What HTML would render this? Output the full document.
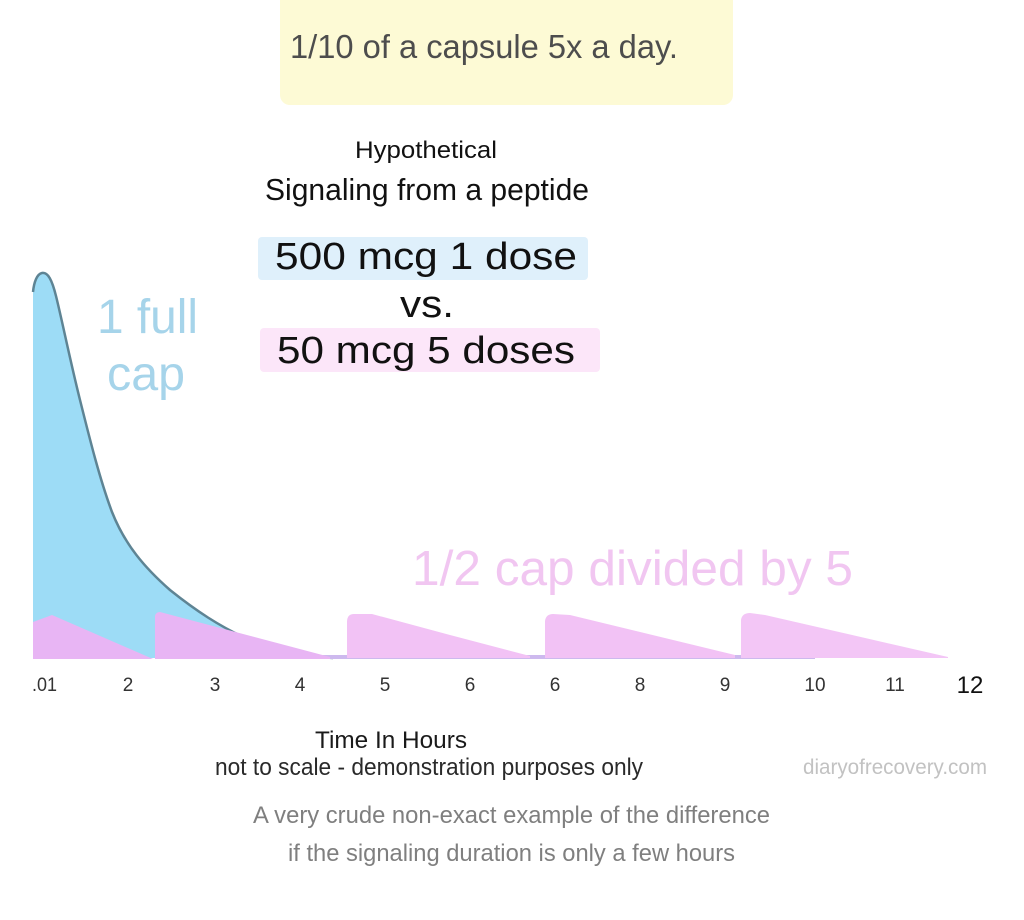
<!DOCTYPE html>
<html>
<head>
<meta charset="utf-8">
<style>
  html, body { margin: 0; padding: 0; background: #ffffff; }
  svg { display: block; }
  text { font-family: "Liberation Sans", sans-serif; }
</style>
</head>
<body>
<svg width="1024" height="920" viewBox="0 0 1024 920" xmlns="http://www.w3.org/2000/svg">
  <rect x="0" y="0" width="1024" height="920" fill="#ffffff"/>

  <!-- yellow header box -->
  <rect x="280" y="-12" width="453" height="117" rx="10" fill="#fdfad5"/>
  <text x="290" y="58" font-size="33" fill="#4d4d4d" textLength="388" lengthAdjust="spacingAndGlyphs">1/10 of a capsule 5x a day.</text>

  <!-- titles -->
  <text x="355" y="158" font-size="24" fill="#111" textLength="142" lengthAdjust="spacingAndGlyphs">Hypothetical</text>
  <text x="265" y="200" font-size="31" fill="#111" textLength="324" lengthAdjust="spacingAndGlyphs">Signaling from a peptide</text>

  <rect x="258" y="237" width="330" height="43" rx="4" fill="#dff0fb"/>
  <text x="275" y="269" font-size="38" fill="#111" textLength="302" lengthAdjust="spacingAndGlyphs">500 mcg 1 dose</text>

  <text x="400" y="317" font-size="38" fill="#111" textLength="54" lengthAdjust="spacingAndGlyphs">vs.</text>

  <rect x="260" y="328" width="340" height="44" rx="4" fill="#fce6f9"/>
  <text x="277" y="363" font-size="38" fill="#111" textLength="298" lengthAdjust="spacingAndGlyphs">50 mcg 5 doses</text>

  <!-- blue curve (1 full cap) -->
  <path d="M33,658 L33,292 C34,282 37,274 42,273 C48,272 52,280 56,296 C62,320 70,360 80,400 C90,440 100,480 112,512 C125,545 145,568 170,590 C195,610 220,627 250,640 C275,650 300,656 333,658 Z" fill="#9ddcf6"/>
  <path d="M33,292 C34,282 37,274 42,273 C48,272 52,280 56,296 C62,320 70,360 80,400 C90,440 100,480 112,512 C125,545 145,568 170,590 C195,610 220,627 250,640 C275,650 300,656 333,658" fill="none" stroke="#5e8494" stroke-width="2.5"/>

  <!-- baseline strip -->
  <rect x="300" y="655" width="515" height="4" fill="#cdb9ee"/>
  <rect x="815" y="655" width="80" height="3" fill="#dfe3f6"/>

  <!-- pink sawtooth -->
  <path d="M33,659 L33,622 L52,615 L153,659 Z" fill="#e8b5f4"/>
  <path d="M155,659 L155,616 Q156,612 160,612 L330,657 L330,659 Z" fill="#e8b5f4"/>
  <path d="M347,658 L347,622 Q347,614 354,614 L372,614 L450,635 L530,656 L530,658 Z" fill="#f2c2f5"/>
  <path d="M545,658 L545,621 Q546,614 553,614 L570,615 L735,655 L735,658 Z" fill="#f2c2f5"/>
  <path d="M741,658 L741,620 Q742,613 750,613 L765,615 L948,657 L948,658 Z" fill="#f3c6f6"/>

  <!-- series labels -->
  <text x="97" y="333" font-size="48" fill="#a6d4ea" textLength="101" lengthAdjust="spacingAndGlyphs">1 full</text>
  <text x="107" y="390" font-size="48" fill="#a6d4ea" textLength="78" lengthAdjust="spacingAndGlyphs">cap</text>
  <text x="412" y="585" font-size="49" fill="#f1c6f1" textLength="441" lengthAdjust="spacingAndGlyphs">1/2 cap divided by 5</text>

  <!-- x-axis tick labels -->
  <g font-size="19" fill="#333">
    <text x="32" y="691" textLength="25" lengthAdjust="spacingAndGlyphs">.01</text>
    <text x="128" y="691" text-anchor="middle">2</text>
    <text x="215" y="691" text-anchor="middle">3</text>
    <text x="300" y="691" text-anchor="middle">4</text>
    <text x="385" y="691" text-anchor="middle">5</text>
    <text x="470" y="691" text-anchor="middle">6</text>
    <text x="555" y="691" text-anchor="middle">6</text>
    <text x="640" y="691" text-anchor="middle">8</text>
    <text x="725" y="691" text-anchor="middle">9</text>
    <text x="815" y="691" text-anchor="middle">10</text>
    <text x="895" y="691" text-anchor="middle">11</text>
  </g>
  <text x="970" y="693" font-size="24" fill="#111" text-anchor="middle">12</text>

  <!-- axis title & notes -->
  <text x="315" y="748" font-size="24" fill="#1a1a1a" textLength="152" lengthAdjust="spacingAndGlyphs">Time In Hours</text>
  <text x="215" y="775" font-size="24" fill="#2a2a2a" textLength="428" lengthAdjust="spacingAndGlyphs">not to scale - demonstration purposes only</text>
  <text x="803" y="774" font-size="21" fill="#c2c2c2" textLength="184" lengthAdjust="spacingAndGlyphs">diaryofrecovery.com</text>

  <text x="253" y="823" font-size="24" fill="#7f7f7f" textLength="517" lengthAdjust="spacingAndGlyphs">A very crude non-exact example of the difference</text>
  <text x="288" y="861" font-size="24" fill="#7f7f7f" textLength="447" lengthAdjust="spacingAndGlyphs">if the signaling duration is only a few hours</text>
</svg>
</body>
</html>
